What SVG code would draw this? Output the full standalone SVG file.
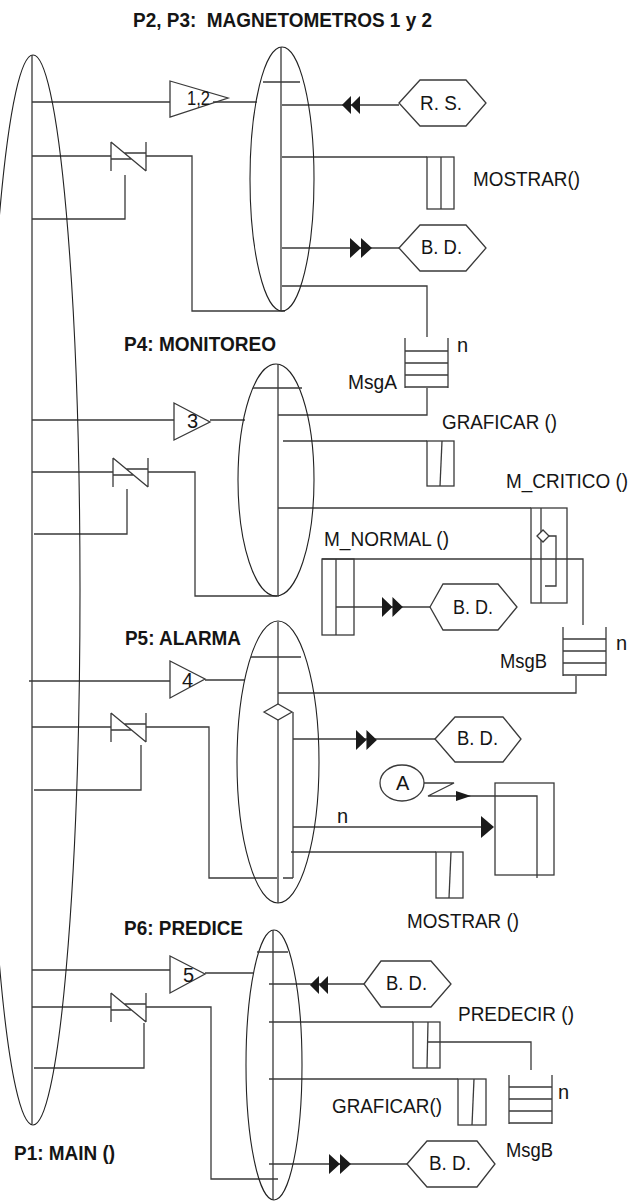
<svg xmlns="http://www.w3.org/2000/svg" width="636" height="1202" viewBox="0 0 636 1202">
<style>
.ln{fill:none;stroke:#3a3a3a;stroke-width:1.3}
.el{fill:none;stroke:#222;stroke-width:1.1}
.sh{fill:#fff;stroke:#3a3a3a;stroke-width:1.3}
.ah{fill:#1a1a1a;stroke:none}
text{font-family:"Liberation Sans",Arial,sans-serif;font-size:20px;fill:#151515}
.b{font-weight:bold}
</style>
<defs>
<path id="dbl" d="M0,-10 L11,0 L0,10 Z M11,-10 L22,0 L11,10 Z"/>
<path id="sw" d="M0,-14 V15 M0,-14 L35,15 M35,-14 V15 M0,3 H20.5 M13.3,-3 H35"/>
</defs>
<rect width="636" height="1202" fill="#fff"/>

<g id="connectors" class="ln">
<!-- P1 to P2 -->
<path d="M32,102 H170 M213,102 H257"/>
<path d="M32,156 H111 M146,156 H192 V311 H285 M125,175 V219 H32"/>
<!-- P2 internals -->
<path d="M282,105 H399"/>
<path d="M282,157 H427"/>
<path d="M282,248 H399"/>
<path d="M282,286 H427 V337"/>
<path d="M427,388 V415 H278"/>
<!-- P1 to P4 -->
<path d="M32,420 H174 M210,420 H245"/>
<path d="M32,472 H113 M148,472 H195 V596 H277 M127,489 V534 H34"/>
<!-- P4 internals -->
<path d="M283,441 H427"/>
<path d="M278,508 H531"/>
<path d="M322,559 H583 V625"/>
<path d="M336,607 H430"/>
<path d="M576,676 V693 H278"/>
<!-- P1 to P5 -->
<path d="M29,681 H170 M205,680 H245"/>
<path d="M32,727 H111 M146,727 H209 V878 H277 M141,745 V790 H34"/>
<!-- P5 internals -->
<path d="M293,739 H435"/>
<path d="M293,827 H482"/>
<path d="M291,852 H436"/>
<path d="M424,783 H454 L428,796 H537 V878"/>
<!-- P1 to P6 -->
<path d="M32,970 H170 M205,973 H253"/>
<path d="M32,1007 H111 M146,1007 H211 V1179 H278 M144,1023 V1068 H34"/>
<!-- P6 internals -->
<path d="M269,984 H364"/>
<path d="M269,1022 H413"/>
<path d="M428,1042 H531 V1070"/>
<path d="M269,1079 H458"/>
<path d="M269,1164 H407"/>
<!-- arrowheads -->
<g class="ah">
<use href="#dbl" transform="translate(360,105) scale(-0.82,0.9)"/>
<use href="#dbl" transform="translate(350,248)"/>
<use href="#dbl" transform="translate(382,607) scale(0.95,1)"/>
<use href="#dbl" transform="translate(356,740) scale(0.95,1)"/>
<use href="#dbl" transform="translate(328,985) scale(-0.82,0.9)"/>
<use href="#dbl" transform="translate(329,1164)"/>
<polygon points="481,816 494,827 481,838"/>
<polygon points="456,791 471,796 456,801"/>
</g>
</g>

<g id="p1">
<ellipse class="el" cx="33" cy="590" rx="47" ry="535"/>
<path class="ln" d="M32,55 V1124"/>
<text class="b" x="14" y="1160" textLength="101" lengthAdjust="spacingAndGlyphs">P1: MAIN ()</text>
</g>

<g id="title">
<text class="b" x="133" y="27" xml:space="preserve" textLength="299" lengthAdjust="spacingAndGlyphs">P2, P3:  MAGNETOMETROS 1 y 2</text>
</g>

<g id="p2">
<ellipse class="el" cx="282" cy="179" rx="32" ry="132"/>
<path class="ln" d="M281,47 V311 M263,82 H300"/>
</g>
<g id="call12">
<polygon class="ln" points="170,81 228,98 170,117"/>
<text x="187" y="105" textLength="23" lengthAdjust="spacingAndGlyphs">1,2</text>
</g>
<g id="sw-p2"><use href="#sw" class="ln" transform="translate(111,156)"/></g>
<g id="rs">
<polygon class="sh" points="399,103 420,80 466,80 486,103 466,126 420,126"/>
<text x="420" y="110" textLength="42" lengthAdjust="spacingAndGlyphs">R. S.</text>
</g>
<g id="mostrar1">
<rect class="ln" x="427" y="157" width="27" height="52"/>
<path class="ln" d="M441,157 V209"/>
<text x="473" y="186" textLength="107" lengthAdjust="spacingAndGlyphs">MOSTRAR()</text>
</g>
<g id="bd1">
<polygon class="sh" points="399,248 420,225 466,225 486,248 466,271 420,271"/>
<text x="421" y="254" textLength="41" lengthAdjust="spacingAndGlyphs">B. D.</text>
</g>
<g id="msga">
<path class="ln" d="M405,338 V388 M448,338 V388 M405,351 H448 M405,363 H448 M405,375 H448 M405,387 H448"/>
<text x="457" y="352">n</text>
<text x="348" y="389" textLength="49" lengthAdjust="spacingAndGlyphs">MsgA</text>
</g>

<g id="p4">
<text class="b" x="124" y="351" textLength="152" lengthAdjust="spacingAndGlyphs">P4: MONITOREO</text>
<ellipse class="el" cx="276" cy="480" rx="38" ry="116"/>
<path class="ln" d="M278,364 V597 M253,388 H302"/>
</g>
<g id="call3">
<polygon class="ln" points="174,403 210,422 174,440"/>
<text x="187" y="428">3</text>
</g>
<g id="sw-p4"><use href="#sw" class="ln" transform="translate(113,472)"/></g>
<g id="graficar1">
<rect class="ln" x="427" y="441" width="27" height="45"/>
<path class="ln" d="M442,441 L440,486"/>
<text x="442" y="429" textLength="115" lengthAdjust="spacingAndGlyphs">GRAFICAR ()</text>
</g>
<g id="mcritico">
<rect class="ln" x="531" y="508" width="36" height="95"/>
<path class="ln" d="M541,508 V603 M549,536 H556 V586 H545"/>
<polygon class="sh" points="537,536 543,530 549,536 543,542"/>
<text x="506" y="488" textLength="122" lengthAdjust="spacingAndGlyphs">M_CRITICO ()</text>
</g>
<g id="mnormal">
<rect class="ln" x="322" y="559" width="32" height="76"/>
<path class="ln" d="M336,559 V635"/>
<text x="324" y="546" textLength="125" lengthAdjust="spacingAndGlyphs">M_NORMAL ()</text>
</g>
<g id="bd2">
<polygon class="sh" points="430,607 443,584 498,584 517,607 498,630 443,630"/>
<text x="453" y="614" textLength="40" lengthAdjust="spacingAndGlyphs">B. D.</text>
</g>
<g id="msgb1">
<path class="ln" d="M563,627 V676 M606,627 V676 M563,639 H606 M563,651 H606 M563,663 H606 M563,675 H606"/>
<text x="616" y="650">n</text>
<text x="500" y="668" textLength="47" lengthAdjust="spacingAndGlyphs">MsgB</text>
</g>

<g id="p5">
<text class="b" x="125" y="645" textLength="116" lengthAdjust="spacingAndGlyphs">P5: ALARMA</text>
<ellipse class="el" cx="278" cy="762" rx="41" ry="141"/>
<path class="ln" d="M278,622 V903 M251,657 H301 M293,712 V878 M283,878 H293"/>
<polygon class="sh" points="264,712 278,704 292,712 278,720"/>
</g>
<g id="call4">
<polygon class="ln" points="170,661 205,679 170,698"/>
<text x="182" y="687">4</text>
</g>
<g id="sw-p5"><use href="#sw" class="ln" transform="translate(111,727)"/></g>
<g id="bd3">
<polygon class="sh" points="435,739 455,717 503,717 521,739 503,762 455,762"/>
<text x="457" y="745" textLength="41" lengthAdjust="spacingAndGlyphs">B. D.</text>
</g>
<g id="eventA">
<ellipse class="ln" cx="402" cy="783" rx="22" ry="18"/>
<text x="396" y="790">A</text>
</g>
<g id="alarmbox">
<rect class="ln" x="495" y="783" width="59" height="92"/>
<text x="337" y="823">n</text>
</g>
<g id="mostrar2">
<rect class="ln" x="436" y="852" width="27" height="46"/>
<path class="ln" d="M451,852 L449,898"/>
<text x="407" y="928" textLength="112" lengthAdjust="spacingAndGlyphs">MOSTRAR ()</text>
</g>

<g id="p6">
<text class="b" x="124" y="935" textLength="119" lengthAdjust="spacingAndGlyphs">P6: PREDICE</text>
<ellipse class="el" cx="274" cy="1065" rx="28" ry="135"/>
<path class="ln" d="M273,930 V1200 M257,952 H288"/>
</g>
<g id="call5">
<polygon class="ln" points="170,956 205,974 170,993"/>
<text x="183" y="982">5</text>
</g>
<g id="sw-p6"><use href="#sw" class="ln" transform="translate(111,1007)"/></g>
<g id="bd4">
<polygon class="sh" points="364,984 381,961 431,961 451,984 431,1007 381,1007"/>
<text x="386" y="990" textLength="41" lengthAdjust="spacingAndGlyphs">B. D.</text>
</g>
<g id="predecir">
<rect class="ln" x="413" y="1022" width="27" height="46"/>
<path class="ln" d="M428,1022 L427,1068"/>
<text x="458" y="1021" textLength="116" lengthAdjust="spacingAndGlyphs">PREDECIR ()</text>
</g>
<g id="msgb2">
<path class="ln" d="M509,1075 V1124 M552,1075 V1124 M509,1087 H552 M509,1099 H552 M509,1111 H552 M509,1123 H552"/>
<text x="558" y="1099">n</text>
<text x="506" y="1157" textLength="47" lengthAdjust="spacingAndGlyphs">MsgB</text>
</g>
<g id="graficar2">
<rect class="ln" x="458" y="1079" width="28" height="46"/>
<path class="ln" d="M474,1079 L472,1125"/>
<text x="332" y="1113" textLength="110" lengthAdjust="spacingAndGlyphs">GRAFICAR()</text>
</g>
<g id="bd5">
<polygon class="sh" points="407,1164 427,1141 477,1141 495,1164 477,1187 427,1187"/>
<text x="429" y="1170" textLength="42" lengthAdjust="spacingAndGlyphs">B. D.</text>
</g>
</svg>
